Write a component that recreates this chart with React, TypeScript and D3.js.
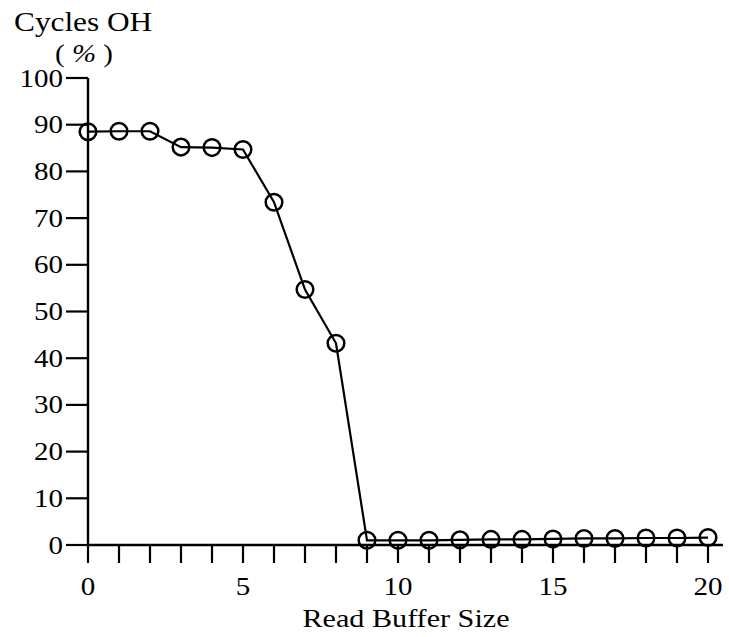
import React, { useRef, useEffect } from 'react';
import * as d3 from 'd3';

const bufferSizes = [0, 1, 2, 3, 4, 5, 6, 7, 8, 9, 10, 11, 12, 13, 14, 15, 16, 17, 18, 19, 20];
const cyclesOH = [88.5, 88.6, 88.6, 85.2, 85.1, 84.7, 73.4, 54.7, 43.2, 1.0, 1.0, 1.0, 1.1, 1.2, 1.2, 1.3, 1.4, 1.4, 1.5, 1.5, 1.6];
const yTicks = [0, 10, 20, 30, 40, 50, 60, 70, 80, 90, 100];
const xTicks = d3.range(0, 21);
const xLabels = [0, 5, 10, 15, 20];

const FONT = '"Liberation Serif", "Times New Roman", serif';
const SX = 1.16; // the scanned lettering is a bit wider than Times

const App: React.FC = () => {
  const ref = useRef<SVGSVGElement>(null);

  useEffect(() => {
    if (!ref.current) return;
    const svg = d3.select(ref.current);
    svg.selectAll('*').remove();

    const x = d3.scaleLinear().domain([0, 20]).range([88, 708]);
    const y = d3.scaleLinear().domain([0, 100]).range([545, 78]);

    const g = svg.append('g');

    const label = (tx: number, ty: number, size: number, anchor: string, text: string) =>
      g.append('text')
        .attr('transform', `translate(${tx},${ty}) scale(${SX},1)`)
        .attr('text-anchor', anchor)
        .style('font-family', FONT)
        .style('font-size', `${size}px`)
        .text(text);

    // axes lines
    g.append('line')
      .attr('x1', x(0)).attr('x2', x(0))
      .attr('y1', y(100)).attr('y2', y(0))
      .attr('stroke', '#000').attr('stroke-width', 2.4);
    g.append('line')
      .attr('x1', x(0)).attr('x2', x(20) + 15)
      .attr('y1', y(0)).attr('y2', y(0))
      .attr('stroke', '#000').attr('stroke-width', 2.4);

    // y ticks
    g.selectAll('.ytick')
      .data(yTicks)
      .enter()
      .append('line')
      .attr('x1', x(0) - 22).attr('x2', x(0))
      .attr('y1', d => y(d)).attr('y2', d => y(d))
      .attr('stroke', '#000').attr('stroke-width', 2.2);
    yTicks.forEach(d => label(x(0) - 25, y(d) + 8.5, 25, 'end', String(d)));

    // x ticks
    g.selectAll('.xtick')
      .data(xTicks)
      .enter()
      .append('line')
      .attr('x1', d => x(d)).attr('x2', d => x(d))
      .attr('y1', y(0)).attr('y2', y(0) + 18)
      .attr('stroke', '#000').attr('stroke-width', 2.2);
    xLabels.forEach(d => label(x(d), 595, 25, 'middle', String(d)));

    // titles
    label(406, 627, 26, 'middle', 'Read Buffer Size');
    label(14, 31, 27, 'start', 'Cycles OH');
    const pct = g.append('text')
      .attr('transform', `translate(84,62) scale(${SX},1)`)
      .attr('text-anchor', 'middle')
      .style('font-family', FONT)
      .style('font-size', '25px');
    pct.append('tspan').text('( ');
    pct.append('tspan').style('font-style', 'italic').text('%');
    pct.append('tspan').text(' )');

    // series line
    const pts = bufferSizes.map((b, i) => [b, cyclesOH[i]] as [number, number]);
    const line = d3.line<[number, number]>().x(d => x(d[0])).y(d => y(d[1]));
    g.append('path')
      .attr('d', line(pts))
      .attr('fill', 'none')
      .attr('stroke', '#000')
      .attr('stroke-width', 2.2);

    g.selectAll('.pt')
      .data(pts)
      .enter()
      .append('circle')
      .attr('cx', d => x(d[0]))
      .attr('cy', d => y(d[1]))
      .attr('r', 8.3)
      .attr('fill', 'none')
      .attr('stroke', '#000')
      .attr('stroke-width', 2.5);
  }, []);

  return (
    <svg
      ref={ref}
      width={729}
      height={637}
      style={{ position: 'absolute', left: 0, top: 0, background: '#fff' }}
    />
  );
};

export default App;
